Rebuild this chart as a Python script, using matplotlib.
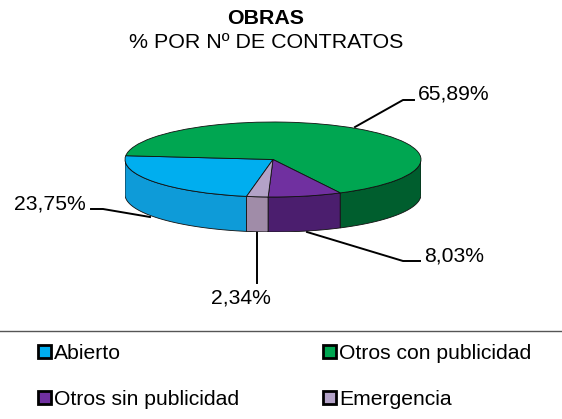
import numpy as np
import matplotlib
matplotlib.use("Agg")
import matplotlib.pyplot as plt
from matplotlib.patches import Patch, Polygon

plt.rcParams['font.family'] = ['Liberation Sans', 'DejaVu Sans']

categorias = ["Abierto", "Otros con publicidad", "Otros sin publicidad", "Emergencia"]
valores = [23.75, 65.89, 8.03, 2.34]
colores = ["#00AEEF", "#00A651", "#7030A0", "#B3A2C7"]
colores_lado = ["#0E9BD8", "#005E2E", "#4B1E6E", "#A08CA8"]

W, H = 562, 419
fig = plt.figure(figsize=(W / 100, H / 100), dpi=100, facecolor="white")

# capa en pixeles para textos y lineas
fondo = fig.add_axes([0, 0, 1, 1])
fondo.set_xlim(0, W)
fondo.set_ylim(H, 0)
fondo.axis("off")

# tarta aplastada: elipse de 148x37.5 px con centro en (273,159.5)
cx, cy, a, b = 273, 159.5, 148, 37.5
prof = 35 / b
ax = fig.add_axes([(cx - a) / W, 1 - (cy + b + 35) / H, 2 * a / W, (2 * b + 35) / H])
inicio = 259.7
ax.pie(valores, colors=colores, startangle=inicio, counterclock=False, radius=1,
       wedgeprops=dict(edgecolor="#101010", linewidth=0.6, zorder=3))
ax.set_aspect("auto")
ax.set_xlim(-1, 1)
ax.set_ylim(-1 - prof, 1)
ax.axis("off")

# pared lateral, solo la parte de delante
ang = inicio
for v, c in zip(valores, colores_lado):
    fin = ang - v * 3.6
    t0, t1 = (fin % 360), (fin % 360) + v * 3.6
    for desde, hasta in [(t0, t1), (t0 - 360, t1 - 360)]:
        d, h = max(desde, 180), min(hasta, 360)
        if h > d:
            t = np.radians(np.linspace(d, h, 60))
            x, y = np.cos(t), np.sin(t)
            pts = np.r_[np.c_[x, y], np.c_[x, y - prof][::-1]]
            ax.add_patch(Polygon(pts, closed=True, facecolor=c, edgecolor="#101010",
                                 linewidth=0.6, zorder=2))
    ang = fin

# titulos
fondo.text(266, 19, "OBRAS", ha="center", va="center", fontsize=15.4, fontweight="bold", color="black")
fondo.text(266, 43, "% POR Nº DE CONTRATOS", ha="center", va="center", fontsize=15.4, color="black")

# etiquetas con lineas guia
etiquetas = [f"{v:.2f}%".replace(".", ",") for v in valores]
fondo.plot([355, 403, 414], [127, 100, 100], color="black", lw=1.4)
fondo.text(418, 94, etiquetas[1], ha="left", va="center", fontsize=15.2)
fondo.plot([91, 103, 150], [209, 209, 217], color="black", lw=1.4)
fondo.text(86, 204, etiquetas[0], ha="right", va="center", fontsize=15.2)
fondo.plot([307, 403, 420], [232, 261, 261], color="black", lw=1.4)
fondo.text(424, 256, etiquetas[2], ha="left", va="center", fontsize=15.2)
fondo.plot([257, 257], [232, 283], color="black", lw=1.4)
fondo.text(241, 298, etiquetas[3], ha="center", va="center", fontsize=15.2)

# separador y leyenda
fondo.plot([0, W], [331, 331], color="#555555", lw=1)
handles = [Patch(facecolor=c, edgecolor="black", linewidth=2) for c in colores]
orden = [0, 2, 1, 3]
fig.legend([handles[i] for i in orden], [categorias[i] for i in orden], ncol=2,
           loc="upper left", bbox_to_anchor=(38 / W, 1 - 344 / H), frameon=False,
           fontsize=15.2, handlelength=0.6, handleheight=0.58, handletextpad=0.14,
           labelspacing=1.28, columnspacing=4.0, borderpad=0, borderaxespad=0)

fig.savefig("out.png", dpi=100, facecolor="white")
